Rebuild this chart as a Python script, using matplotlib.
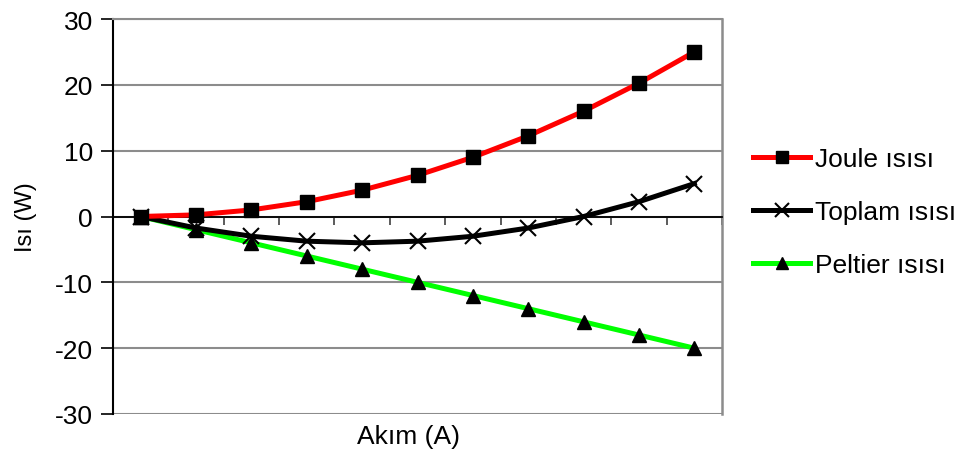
import numpy as np
import matplotlib
matplotlib.use('Agg')
import matplotlib.pyplot as plt

plt.rcParams['font.family'] = ['Liberation Sans', 'DejaVu Sans']
plt.rcParams['axes.unicode_minus'] = False

# Values (current steps 0..10, no tick labels).
steps = list(range(11))
joule = [0, 0.25, 1, 2.25, 4, 6.25, 9, 12.25, 16, 20.25, 25]
toplam = [0, -1.75, -3, -3.75, -4, -3.75, -3, -1.75, 0, 2.25, 5]
peltier = [0, -2, -4, -6, -8, -10, -12, -14, -16, -18, -20]
y_ticks = [-30, -20, -10, 0, 10, 20, 30]

fig = plt.figure(figsize=(9.61, 4.56), dpi=100)
ax = fig.add_axes([113 / 961, 1 - 415 / 456, (722 - 113) / 961, (415 - 20) / 456])

ax.plot(steps, peltier, color='#00ff00', lw=3.6, marker='^', ms=10.5,
        mfc='black', mec='black', label='Peltier ısısı', zorder=3)
ax.plot(steps, toplam, color='black', lw=3.6, marker='x', ms=12,
        mew=1.5, mec='black', label='Toplam ısısı', zorder=4)
ax.plot(steps, joule, color='#ff0000', lw=3.6, marker='s', ms=10.5,
        mfc='black', mec='black', label='Joule ısısı', zorder=5)

ax.set_xlim(-0.5, 10.5)
ax.set_ylim(-30, 30)
ax.set_yticks(y_ticks)
ax.yaxis.grid(True, color='#8c8c8c', lw=1.5)
ax.set_axisbelow(True)
ax.tick_params(axis='y', direction='out', length=9, width=1.2, color='black',
               labelsize=19, pad=5.5)

# x-axis sits at y = 0 with ticks between categories
ax.spines['bottom'].set_position(('data', 0))
ax.spines['bottom'].set_color('black')
ax.spines['bottom'].set_linewidth(1.3)
ax.set_xticks(np.arange(-0.5, 11, 1))
ax.tick_params(axis='x', direction='out', length=6, width=1.2, color='#404040',
               labelbottom=False)
ax.spines['left'].set_linewidth(1.5)
ax.spines['right'].set_color('#8c8c8c')
ax.spines['right'].set_linewidth(1.8)
ax.spines['top'].set_color('#8c8c8c')
ax.spines['top'].set_linewidth(1.5)

ax.set_xlabel('Akım (A)', fontsize=19)
ax.xaxis.set_label_coords(0.485, -0.025)
ax.set_ylabel('Isı (W)', fontsize=17)
ax.yaxis.set_label_coords(-0.124, 0.5)

h, l = ax.get_legend_handles_labels()
leg = ax.legend(h[::-1], l[::-1], loc='center left', bbox_to_anchor=(1.021, 0.511),
                frameon=False, fontsize=19, handlelength=2.15, handletextpad=0.2,
                labelspacing=1.1, markerscale=0.85, borderpad=0.2)

fig.savefig('out.png', dpi=100)
